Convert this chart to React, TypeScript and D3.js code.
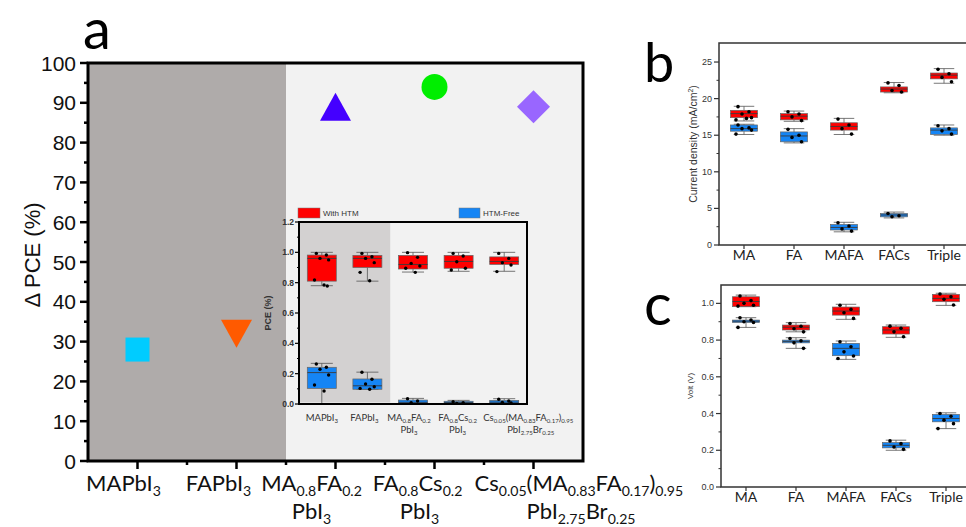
import React from "react";
import * as d3 from "d3";

const W = 966;
const H = 527;

// ---- panel a: delta PCE per composition
const compLine1 = ["MAPbI_{3}", "FAPbI_{3}", "MA_{0.8}FA_{0.2}", "FA_{0.8}Cs_{0.2}", "Cs_{0.05}(MA_{0.83}FA_{0.17})_{0.95}"];
const compLine2 = ["", "", "PbI_{3}", "PbI_{3}", "PbI_{2.75}Br_{0.25}"];
const deltaPCE = [28, 32, 89, 94, 89];
const markerKind = ["square", "triDown", "triUp", "circle", "diamond"];
const markerColor = ["#00ccff", "#ff5a00", "#4400ff", "#00ee00", "#9966ff"];
const pceTicks = [0, 10, 20, 30, 40, 50, 60, 70, 80, 90, 100];

// ---- inset: normalised PCE, [lo, q1, median, q3, hi]
const insetTicks = [0, 0.2, 0.4, 0.6, 0.8, 1.0, 1.2];
const insetWithStats = [
  [0.78, 0.81, 0.96, 0.982, 1.0],
  [0.81, 0.9, 0.96, 0.98, 1.0],
  [0.87, 0.89, 0.92, 0.98, 1.0],
  [0.875, 0.895, 0.94, 0.98, 1.0],
  [0.875, 0.92, 0.94, 0.97, 1.0],
];
const insetWithPts = [
  [0.993, 0.982, 0.96, 0.95, 0.818, 0.785, 0.778],
  [0.993, 0.971, 0.96, 0.932, 0.868, 0.813],
  [0.998, 0.967, 0.927, 0.91, 0.895, 0.868],
  [0.993, 0.976, 0.938, 0.895, 0.884],
  [0.993, 0.96, 0.932, 0.916, 0.873],
];
const insetFreeStats = [
  [0.0, 0.103, 0.207, 0.242, 0.268],
  [0.097, 0.097, 0.12, 0.165, 0.21],
  [0.0, 0.0, 0.011, 0.026, 0.037],
  [0.0, 0.0, 0.009, 0.018, 0.024],
  [0.0, 0.0, 0.012, 0.024, 0.035],
];
const insetFreePts = [
  [0.264, 0.242, 0.229, 0.191, 0.125, 0.086],
  [0.209, 0.163, 0.132, 0.114, 0.103, 0.097],
  [0.035, 0.02, 0.009],
  [0.015, 0.009, 0.004],
  [0.031, 0.02, 0.011, 0.007],
];

// ---- panels b, c
const shortNames = ["MA", "FA", "MAFA", "FACs", "Triple"];
const jscTicks = [0, 5, 10, 15, 20, 25];
const jscWithStats = [
  [16.95, 17.4, 17.95, 18.4, 18.95],
  [16.9, 17.1, 17.6, 17.95, 18.3],
  [15.1, 15.7, 16.2, 16.7, 17.3],
  [20.8, 20.9, 21.3, 21.6, 22.2],
  [22.1, 22.7, 23.2, 23.5, 24.1],
];
const jscWithPts = [
  [18.9, 18.2, 17.9, 17.4, 17.1, 17.3],
  [18.2, 17.9, 17.5, 17.0],
  [17.2, 16.4, 15.9, 15.15],
  [22.15, 21.8, 21.1, 20.9],
  [24.0, 23.4, 22.9, 22.3],
];
const jscFreeStats = [
  [15.1, 15.55, 15.9, 16.4, 16.5],
  [13.95, 14.1, 14.9, 15.45, 15.9],
  [1.8, 2.05, 2.4, 2.8, 3.1],
  [3.7, 3.85, 4.1, 4.3, 4.5],
  [15.0, 15.1, 15.7, 16.0, 16.4],
];
const jscFreePts = [
  [16.4, 16.0, 15.9, 15.7, 15.15],
  [15.8, 15.0, 14.7, 14.1],
  [3.05, 2.6, 2.2, 1.9],
  [4.3, 4.0, 3.85],
  [16.3, 15.9, 15.6, 15.15],
];
const vocTicks = [0, 0.2, 0.4, 0.6, 0.8, 1.0];
const vocWithStats = [
  [0.982, 0.982, 1.01, 1.036, 1.045],
  [0.845, 0.855, 0.87, 0.882, 0.895],
  [0.913, 0.936, 0.958, 0.98, 0.995],
  [0.815, 0.833, 0.855, 0.873, 0.882],
  [0.989, 1.009, 1.027, 1.049, 1.055],
];
const vocWithPts = [
  [1.04, 1.015, 1.0, 0.99, 0.985],
  [0.89, 0.875, 0.862, 0.845],
  [0.99, 0.967, 0.949, 0.918],
  [0.876, 0.864, 0.845, 0.818],
  [1.051, 1.036, 1.022, 0.991],
];
const vocFreeStats = [
  [0.869, 0.896, 0.903, 0.909, 0.922],
  [0.755, 0.785, 0.793, 0.8, 0.813],
  [0.695, 0.715, 0.755, 0.782, 0.795],
  [0.2, 0.213, 0.227, 0.242, 0.255],
  [0.318, 0.355, 0.373, 0.395, 0.404],
];
const vocFreePts = [
  [0.922, 0.909, 0.9, 0.896, 0.869],
  [0.809, 0.796, 0.785, 0.755],
  [0.791, 0.764, 0.736, 0.713, 0.7],
  [0.251, 0.236, 0.218, 0.205],
  [0.4, 0.385, 0.364, 0.345, 0.318],
];

const jitter = [-0.12, 0.1, -0.04, 0.15, -0.16, 0.05, 0.12, -0.08];

const RED = "#ff0000";
const BLUE = "#1585f5";
const SANS = "'Liberation Sans', Arial, sans-serif";
const CAL = "Lato, 'Open Sans', sans-serif";

// label placement (px offsets from the tick); the last, long label is left-aligned
const mainLabelDx = [-14, -18, -24, -17, -59];
const mainLabel2Dx = [0, 0, -24, -15, -7];
const insetLabelDx = [0, -3, -4, -1, -21];
const insetLabel2Dx = [0, 0, -4, -1, 3];

function Rich({ x, y, text, size, anchor = "middle", family = CAL, fill = "#111", weight = "normal" }) {
  const parts = text.split(/(_\{[^}]*\})/).filter((p) => p.length);
  const sub = size * 0.64;
  const shift = size * 0.24;
  let down = false;
  return (
    <text x={x} y={y} fontSize={size} fontFamily={family} textAnchor={anchor} fill={fill} fontWeight={weight}>
      {parts.map((p, i) => {
        if (p.startsWith("_{")) {
          const dy = down ? 0 : shift;
          down = true;
          return (
            <tspan key={i} fontSize={sub} dy={dy}>
              {p.slice(2, -1)}
            </tspan>
          );
        }
        const dy = down ? -shift : 0;
        down = false;
        return (
          <tspan key={i} dy={dy}>
            {p}
          </tspan>
        );
      })}
    </text>
  );
}

function Boxes({ stats, pts, x, y, bw, fill, r = 1.8 }) {
  const step = x(2) - x(1);
  return (
    <g>
      {stats.map((s, i) => {
        const cx = x(i + 1);
        const [lo, q1, med, q3, hi] = s;
        const cap = bw * 0.38;
        return (
          <g key={i}>
            <line x1={cx} x2={cx} y1={y(lo)} y2={y(q1)} stroke="#555" strokeWidth={0.8} />
            <line x1={cx} x2={cx} y1={y(q3)} y2={y(hi)} stroke="#555" strokeWidth={0.8} />
            <line x1={cx - cap} x2={cx + cap} y1={y(lo)} y2={y(lo)} stroke="#555" strokeWidth={0.8} />
            <line x1={cx - cap} x2={cx + cap} y1={y(hi)} y2={y(hi)} stroke="#555" strokeWidth={0.8} />
            <rect x={cx - bw / 2} y={y(q3)} width={bw} height={Math.max(1, y(q1) - y(q3))} fill={fill} stroke="#666" strokeWidth={0.7} />
            <line x1={cx - bw / 2} x2={cx + bw / 2} y1={y(med)} y2={y(med)} stroke="#3a3a3a" strokeWidth={0.9} />
            {pts[i].map((v, j) => (
              <circle key={j} cx={cx + jitter[j % jitter.length] * step} cy={y(v)} r={r} fill="#000" />
            ))}
          </g>
        );
      })}
    </g>
  );
}

function Marker({ kind, cx, cy, color }) {
  if (kind === "circle") return <circle cx={cx} cy={cy} r={13} fill={color} />;
  if (kind === "square") return <rect x={cx - 12} y={cy - 12} width={24} height={24} fill={color} />;
  if (kind === "diamond")
    return <path d={`M${cx},${cy - 16.5}L${cx + 16.5},${cy}L${cx},${cy + 16.5}L${cx - 16.5},${cy}Z`} fill={color} />;
  const w = 15.5;
  const h = 14;
  const p = d3.path();
  if (kind === "triUp") {
    p.moveTo(cx, cy - h);
    p.lineTo(cx + w, cy + h);
    p.lineTo(cx - w, cy + h);
  } else {
    p.moveTo(cx - w, cy - h);
    p.lineTo(cx + w, cy - h);
    p.lineTo(cx, cy + h);
  }
  p.closePath();
  return <path d={p.toString()} fill={color} />;
}

function SmallPanel({ x, y, ticks, minor, stats1, pts1, stats2, pts2, label, labelSize, labelX, fmt, letter, letterY, letterSize }) {
  const [x0] = x.range();
  const [yb, yt] = y.range();
  return (
    <g>
      <Boxes stats={stats2} pts={pts2} x={x} y={y} bw={27} fill={BLUE} />
      <Boxes stats={stats1} pts={pts1} x={x} y={y} bw={27} fill={RED} />
      <path d={`M${W},${yt}H${x0}V${yb}H${W}`} fill="none" stroke="#333" strokeWidth={1.5} />
      {minor.map((t) => (
        <line key={"m" + t} x1={x0} x2={x0 - 2.5} y1={y(t)} y2={y(t)} stroke="#333" strokeWidth={1} />
      ))}
      {ticks.map((t) => (
        <g key={t}>
          <line x1={x0} x2={x0 - 5} y1={y(t)} y2={y(t)} stroke="#333" strokeWidth={1.2} />
          <text x={x0 - 7} y={y(t) + 3} fontSize={9} fontFamily={SANS} fill="#333" textAnchor="end">
            {fmt(t)}
          </text>
        </g>
      ))}
      {shortNames.map((n, i) => (
        <g key={n}>
          <line x1={x(i + 1)} x2={x(i + 1)} y1={yb} y2={yb + 4} stroke="#333" strokeWidth={1.2} />
          <text x={x(i + 1)} y={yb + 15} fontSize={14} fontFamily={CAL} fill="#222" textAnchor="middle">
            {n}
          </text>
        </g>
      ))}
      <text
        transform={`translate(${labelX},${(yb + yt) / 2}) rotate(-90)`}
        fontSize={labelSize}
        fontFamily={SANS}
        fill="#333"
        textAnchor="middle"
      >
        {label}
      </text>
      <text x={644} y={letterY} fontSize={letterSize} fontFamily={CAL} fill="#000">
        {letter}
      </text>
    </g>
  );
}

export default function App() {
  const xA = d3.scaleLinear().domain([0.5, 5.5]).range([88, 583]);
  const yA = d3.scaleLinear().domain([0, 100]).range([461, 63]);
  const xI = d3.scaleLinear().domain([0.5, 5.5]).range([299, 527]);
  const yI = d3.scaleLinear().domain([0, 1.2]).range([404, 222]);
  const xB = d3.scaleLinear().domain([0.5, 5.5]).range([719, 969]);
  const yB = d3.scaleLinear().domain([0, 27.6]).range([245, 43]);
  const xC = d3.scaleLinear().domain([0.5, 5.5]).range([721, 971]);
  const yC = d3.scaleLinear().domain([0, 1.1]).range([487, 285]);

  const pceMinor = d3.range(5, 100, 10);
  const catMinor = [1.5, 2.5, 3.5, 4.5];

  return (
    <svg width={W} height={H} style={{ position: "fixed", left: 0, top: 0, background: "#fff" }}>
      {/* panel a */}
      <rect x={xA(0.5)} y={yA(100)} width={xA(2.5) - xA(0.5)} height={yA(0) - yA(100)} fill="#afabaa" />
      <rect x={xA(2.5)} y={yA(100)} width={xA(5.5) - xA(2.5)} height={yA(0) - yA(100)} fill="#f2f2f2" />

      {deltaPCE.map((v, i) => (
        <Marker key={i} kind={markerKind[i]} cx={xA(i + 1)} cy={yA(v)} color={markerColor[i]} />
      ))}

      {/* inset */}
      <rect x={xI(0.5)} y={yI(1.2)} width={xI(2.5) - xI(0.5)} height={yI(0.01) - yI(1.2)} fill="#d3d1d1" />
      <Boxes stats={insetWithStats} pts={insetWithPts} x={xI} y={yI} bw={29} fill={RED} r={1.7} />
      <Boxes stats={insetFreeStats} pts={insetFreePts} x={xI} y={yI} bw={29} fill={BLUE} r={1.7} />
      <rect x={xI(0.5)} y={yI(1.2)} width={xI(5.5) - xI(0.5)} height={yI(0) - yI(1.2)} fill="none" stroke="#000" strokeWidth={2} />
      {d3.range(0.1, 1.2, 0.2).map((t) => (
        <line key={t} x1={xI(0.5)} x2={xI(0.5) - 2} y1={yI(t)} y2={yI(t)} stroke="#000" strokeWidth={1} />
      ))}
      {insetTicks.map((t) => (
        <g key={t}>
          <line x1={xI(0.5)} x2={xI(0.5) - 4} y1={yI(t)} y2={yI(t)} stroke="#000" strokeWidth={1.2} />
          <text x={xI(0.5) - 5} y={yI(t) + 3} fontSize={8.5} fontWeight="bold" fontFamily={SANS} fill="#333" textAnchor="end">
            {t.toFixed(1)}
          </text>
        </g>
      ))}
      <text transform={`translate(271,${yI(0.6)}) rotate(-90)`} fontSize={9} fontWeight="bold" fontFamily={SANS} fill="#333" textAnchor="middle">
        PCE (%)
      </text>
      {compLine1.map((t, i) => (
        <g key={i}>
          <Rich x={xI(i + 1) + insetLabelDx[i]} y={421} text={t} size={9.5} fill="#333" anchor={i === 4 ? "start" : "middle"} />
          {compLine2[i] && (
            <Rich x={xI(i + 1) + insetLabel2Dx[i]} y={433} text={compLine2[i]} size={9.5} fill="#333" anchor={i === 4 ? "start" : "middle"} />
          )}
        </g>
      ))}
      <rect x={298} y={208} width={22} height={10} fill={RED} stroke="#777" strokeWidth={0.5} />
      <text x={323} y={216} fontSize={8} fontFamily={SANS} fill="#333">
        With HTM
      </text>
      <rect x={459} y={208} width={21} height={10} fill={BLUE} stroke="#777" strokeWidth={0.5} />
      <text x={483} y={216} fontSize={8} fontFamily={SANS} fill="#333">
        HTM-Free
      </text>

      {/* panel a axes */}
      <path d={`M${xA(0.5)},${yA(0)}V${yA(100)}H${xA(5.5)}V${yA(0)}Z`} fill="none" stroke="#000" strokeWidth={3} />
      {pceMinor.map((t) => (
        <line key={t} x1={xA(0.5)} x2={xA(0.5) - 4} y1={yA(t)} y2={yA(t)} stroke="#000" strokeWidth={2.5} />
      ))}
      {pceTicks.map((t) => (
        <g key={t}>
          <line x1={xA(0.5)} x2={xA(0.5) - 8} y1={yA(t)} y2={yA(t)} stroke="#000" strokeWidth={2.5} />
          <text x={xA(0.5) - 12} y={yA(t) + 7.5} fontSize={21} fontFamily={SANS} fill="#111" textAnchor="end">
            {t}
          </text>
        </g>
      ))}
      {catMinor.map((t) => (
        <line key={t} x1={xA(t)} x2={xA(t)} y1={yA(0)} y2={yA(0) + 4} stroke="#000" strokeWidth={2.5} />
      ))}
      {compLine1.map((t, i) => (
        <g key={i}>
          <line x1={xA(i + 1)} x2={xA(i + 1)} y1={yA(0)} y2={yA(0) + 8} stroke="#000" strokeWidth={2.5} />
          <Rich x={xA(i + 1) + mainLabelDx[i]} y={491} text={t} size={22} anchor={i === 4 ? "start" : "middle"} />
          {compLine2[i] && (
            <Rich x={xA(i + 1) + mainLabel2Dx[i]} y={519} text={compLine2[i]} size={22} anchor={i === 4 ? "start" : "middle"} />
          )}
        </g>
      ))}
      <text transform={`translate(40,255) rotate(-90)`} fontSize={22} fontFamily={SANS} fill="#111" textAnchor="middle">
        Δ PCE (%)
      </text>
      <text x={83} y={49} fontSize={56} fontFamily={CAL} fill="#000">
        a
      </text>

      {/* panel b */}
      <SmallPanel
        x={xB}
        y={yB}
        ticks={jscTicks}
        minor={[2.5, 7.5, 12.5, 17.5, 22.5]}
        stats1={jscWithStats}
        pts1={jscWithPts}
        stats2={jscFreeStats}
        pts2={jscFreePts}
        label={<>Current density (mA/cm<tspan dy={-4} fontSize={7}>2</tspan><tspan dy={4}>)</tspan></>}
        labelSize={10.5}
        labelX={697}
        fmt={(t) => String(t)}
        letter="b"
        letterY={82}
        letterSize={54}
      />
      {/* panel c */}
      <SmallPanel
        x={xC}
        y={yC}
        ticks={vocTicks}
        minor={[0.1, 0.3, 0.5, 0.7, 0.9]}
        stats1={vocWithStats}
        pts1={vocWithPts}
        stats2={vocFreeStats}
        pts2={vocFreePts}
        label="Volt (V)"
        labelSize={8}
        labelX={693}
        fmt={(t) => t.toFixed(1)}
        letter="c"
        letterY={325}
        letterSize={58}
      />
    </svg>
  );
}
